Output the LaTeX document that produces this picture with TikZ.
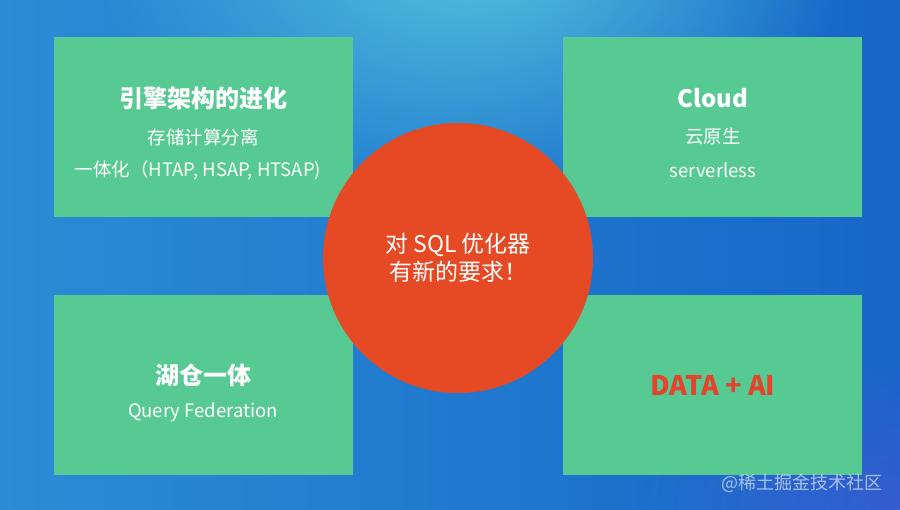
\documentclass[tikz,border=0pt]{standalone}
\usepackage{fontspec}
\setmainfont{Noto Sans CJK SC}
\usepackage{tikz}
\usetikzlibrary{fadings}

\definecolor{fondoizq}{HTML}{2A8DD5}
\definecolor{fondoder}{HTML}{1766C8}
\definecolor{fondoclaro}{HTML}{55C6DE}
\definecolor{fondomorado}{HTML}{4A56D6}
\definecolor{verdecaja}{HTML}{57CA94}
\definecolor{rojocirculo}{HTML}{E64A24}
\definecolor{rojotexto}{HTML}{E5432B}

\tikzfading[name=desvanecer, inner color=transparent!0, outer color=transparent!100]

\begin{document}
\begin{tikzpicture}[x=1pt,y=-1pt,
  caja/.style={fill=verdecaja, minimum width=299pt, minimum height=180pt, inner sep=0pt},
  titulo/.style={text=white, font=\bfseries\fontsize{24}{28}\selectfont},
  linea/.style={text=white, font=\fontsize{18.5}{22}\selectfont}]
  \useasboundingbox (0,0) rectangle (900,510);

  % Fondo
  \shade[left color=fondoizq, right color=fondoder] (0,0) rectangle (900,510);
  \fill[fondoclaro, path fading=desvanecer] (470,-60) ellipse (380 and 270);
  \fill[fondomorado, path fading=desvanecer, opacity=0.6] (900,510) ellipse (260 and 160);

  % Cajas
  \node[caja] (motor) at (203.5,127) {};
  \node[caja] (nube) at (712.5,127) {};
  \node[caja] (lago) at (203.5,385) {};
  \node[caja] (datos) at (712.5,385) {};

  % Textos de las cajas
  \node[titulo] (motortit) at (203,98) {引擎架构的进化};
  \node[linea] (motorl1) at (203,137) {存储计算分离};
  \node[linea] (motorl2) at (198,170) {一体化（HTAP, HSAP, HTSAP)};

  \node[titulo] (nubetit) at (713,98) {Cloud};
  \node[linea] (nubel1) at (713,137) {云原生};
  \node[linea] (nubel2) at (713,170) {serverless};

  \node[titulo] (lagotit) at (203,375) {湖仓一体};
  \node[linea] (lagol1) at (203,412) {Query Federation};

  \node[text=rojotexto, font=\bfseries\fontsize{27}{30}\selectfont] (datostit) at (713,385) {DATA + AI};

  % Circulo central
  \node[circle, fill=rojocirculo, minimum size=270pt, inner sep=0pt, text=white,
        align=center, font=\fontsize{23}{28}\selectfont] (centro) at (458,258)
        {对 SQL 优化器\\有新的要求！};

  % Marca de agua
  \node[text=white, text opacity=0.6, font=\fontsize{18}{21}\selectfont] (marca) at (802,483) {@稀土掘金技术社区};
\end{tikzpicture}
\end{document}
